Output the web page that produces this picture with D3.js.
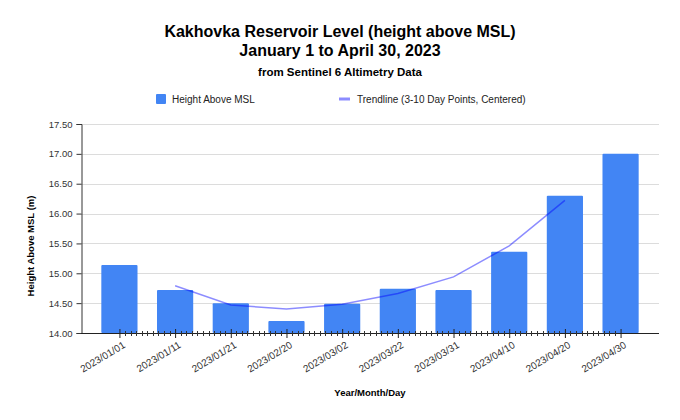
<!DOCTYPE html>
<html>
<head>
<meta charset="utf-8">
<script src="https://cdn.jsdelivr.net/npm/d3@7"></script>
<style>
  body { margin: 0; background: #fff; }
  svg text { font-family: "Liberation Sans", Arial, sans-serif; }
</style>
</head>
<body>
<div id="chartDiv"></div>
<script>
// categories / values
var dates = ["2023/01/01", "2023/01/11", "2023/01/21", "2023/02/20", "2023/03/02",
             "2023/03/22", "2023/03/31", "2023/04/10", "2023/04/20", "2023/04/30"];
var heights = [15.14, 14.72, 14.50, 14.20, 14.49, 14.74, 14.72, 15.36, 16.30, 17.00];
// centered trendline, no value at the two ends
var trend = [null, 14.79, 14.47, 14.40, 14.48, 14.66, 14.94, 15.46, 16.22, null];
var yTicks = [14.0, 14.5, 15.0, 15.5, 16.0, 16.5, 17.0, 17.5];

var width = 680, height = 420;
var plot = {left: 81, right: 659, top: 124, bottom: 333};

var svg = d3.select('#chartDiv').append('svg')
    .attr('width', width)
    .attr('height', height);

var x = d3.scalePoint()
    .domain(dates)
    .range([plot.left, plot.right])
    .padding(0.69);
var step = x.step();
var barW = step * 0.65;

var y = d3.scaleLinear()
    .domain([14, 17.5])
    .range([plot.bottom, plot.top]);

// titles
svg.append('text').attr('x', 340).attr('y', 37)
    .attr('text-anchor', 'middle').style('font-size', '16px').style('font-weight', 'bold')
    .text('Kakhovka Reservoir Level (height above MSL)');
svg.append('text').attr('x', 340).attr('y', 56)
    .attr('text-anchor', 'middle').style('font-size', '16px').style('font-weight', 'bold')
    .text('January 1 to April 30, 2023');
svg.append('text').attr('x', 340).attr('y', 76)
    .attr('text-anchor', 'middle').style('font-size', '11.5px').style('font-weight', 'bold')
    .text('from Sentinel 6 Altimetry Data');

// legend
var legend = svg.append('g').style('font-size', '10px').style('fill', '#222');
legend.append('rect').attr('x', 156).attr('y', 94).attr('width', 10).attr('height', 10)
    .attr('rx', 1).style('fill', '#4285f4');
legend.append('text').attr('x', 172).attr('y', 102.5).text('Height Above MSL');
legend.append('line').attr('x1', 339).attr('x2', 350).attr('y1', 99).attr('y2', 99)
    .style('stroke', '#0000ff').style('stroke-opacity', 0.45).style('stroke-width', 3);
legend.append('text').attr('x', 357).attr('y', 102.5).text('Trendline (3-10 Day Points, Centered)');

// gridlines
svg.append('g').selectAll('line')
    .data(yTicks.slice(1))
    .enter().append('line')
    .attr('x1', plot.left).attr('x2', plot.right)
    .attr('y1', function(d) { return Math.round(y(d)) + 0.5; })
    .attr('y2', function(d) { return Math.round(y(d)) + 0.5; })
    .style('stroke', '#dcdcdc').style('stroke-width', 1);

// bars
svg.append('g').selectAll('rect')
    .data(heights)
    .enter().append('rect')
    .attr('x', function(d, i) { return x(dates[i]) - barW / 2; })
    .attr('y', function(d) { return y(d); })
    .attr('width', barW)
    .attr('height', function(d) { return y(14) - y(d); })
    .attr('rx', 1)
    .style('fill', '#4285f4');

// trendline
var trendLine = d3.line()
    .defined(function(d) { return d !== null; })
    .x(function(d, i) { return x(dates[i]); })
    .y(function(d) { return y(d); });
svg.append('path')
    .datum(trend)
    .attr('d', trendLine)
    .style('fill', 'none')
    .style('stroke', '#0000ff')
    .style('stroke-opacity', 0.45)
    .style('stroke-width', 1.5);

// y axis
var yAxis = d3.axisLeft(y)
    .tickValues(yTicks)
    .tickFormat(d3.format('.2f'))
    .tickSize(5)
    .tickPadding(4);
var gy = svg.append('g')
    .attr('transform', 'translate(' + (plot.left + 0.5) + ',0)')
    .call(yAxis);
gy.select('.domain').style('stroke', '#333');
gy.selectAll('.tick line').style('stroke', '#333');
gy.selectAll('.tick text').style('font-size', '9.5px').style('fill', '#333')
    .style('font-family', '"Liberation Sans", Arial, sans-serif');

// x axis line
svg.append('line')
    .attr('x1', plot.left).attr('x2', plot.right)
    .attr('y1', plot.bottom + 0.5).attr('y2', plot.bottom + 0.5)
    .style('stroke', '#222');

// minor ticks, 9 between each pair of labels
var minor = [];
for (var i = 0; i < dates.length - 1; i++) {
    for (var k = 1; k <= 9; k++) {
        minor.push(x(dates[i]) + step * k / 10);
    }
}
svg.append('g').selectAll('line')
    .data(minor)
    .enter().append('line')
    .attr('x1', function(d) { return Math.round(d) + 0.5; })
    .attr('x2', function(d) { return Math.round(d) + 0.5; })
    .attr('y1', plot.bottom - 2).attr('y2', plot.bottom + 3)
    .style('stroke', '#333');

// major ticks + labels
var xAxis = d3.axisBottom(x).tickSize(0).tickPadding(0);
var gx = svg.append('g')
    .attr('transform', 'translate(0,' + plot.bottom + ')')
    .call(xAxis);
gx.select('.domain').remove();
gx.selectAll('.tick').append('line')
    .attr('y1', -4).attr('y2', 5)
    .style('stroke', '#222');
gx.selectAll('.tick text')
    .style('font-size', '10px').style('fill', '#333')
    .style('font-family', '"Liberation Sans", Arial, sans-serif')
    .attr('text-anchor', 'end')
    .attr('dy', null)
    .attr('transform', 'translate(6,14) rotate(-31)');

// axis titles
svg.append('text')
    .attr('transform', 'translate(34,246) rotate(-90)')
    .attr('text-anchor', 'middle')
    .style('font-size', '9.5px').style('font-weight', 'bold')
    .text('Height Above MSL (m)');
svg.append('text')
    .attr('x', (plot.left + plot.right) / 2).attr('y', 396)
    .attr('text-anchor', 'middle')
    .style('font-size', '9.5px').style('font-weight', 'bold')
    .text('Year/Month/Day');
</script>
</body>
</html>
